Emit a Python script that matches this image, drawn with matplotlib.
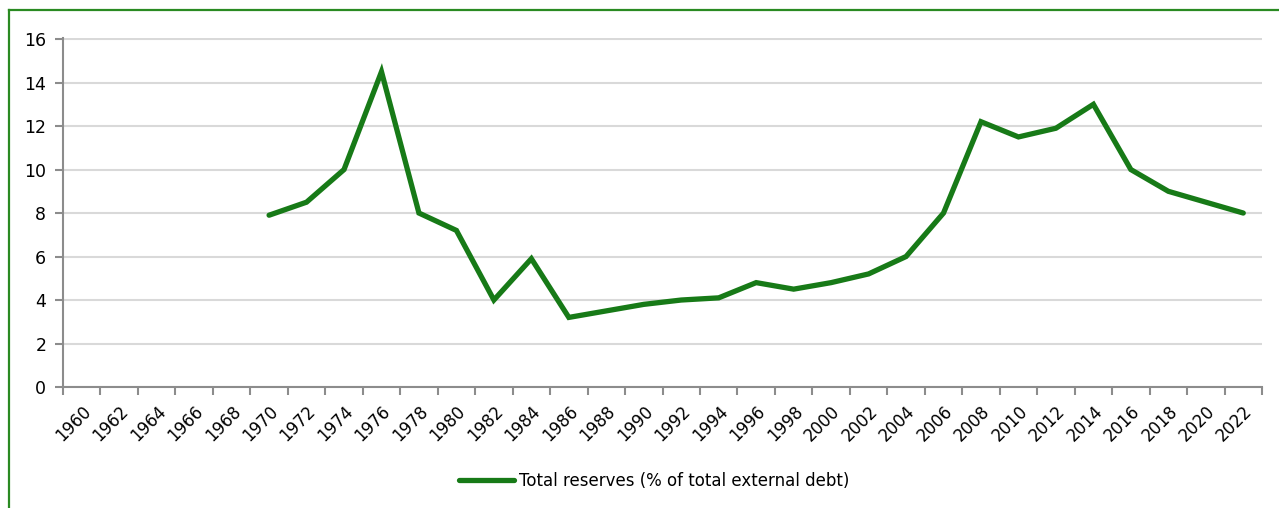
import numpy as np
import matplotlib
matplotlib.use("Agg")
import matplotlib.pyplot as plt
from matplotlib.lines import Line2D

# ---------------------------------------------------------------------------
# Data
# ---------------------------------------------------------------------------

years = [str(y) for y in range(1960, 2023, 2)]
reserves_pct = [
    np.nan, np.nan, np.nan, np.nan, np.nan,      # 1960-1968: no data
    7.9, 8.5, 10.0, 14.5, 8.0, 7.2, 4.0, 5.9,    # 1970-1984
    3.2, 3.5, 3.8, 4.0, 4.1, 4.8, 4.5, 4.8,      # 1986-2000
    5.2, 6.0, 8.0, 12.2, 11.5, 11.9, 13.0,       # 2002-2014
    10.0, 9.0, 8.5, 8.0,                         # 2016-2022
]
series_label = "Total reserves (% of total external debt)"

LINE_GREEN = "#177a17"
BORDER_GREEN = "#2a8a22"
GRID_GREY = "#d9d9d9"
AXIS_GREY = "#8c8c8c"

plt.rcParams["font.family"] = ["DejaVu Sans"]

fig = plt.figure(figsize=(12.79, 5.08), dpi=100)
ax = fig.add_axes([63 / 1279, 1 - 387 / 508, (1262 - 63) / 1279, (387 - 38) / 508])

x = np.arange(len(years))
ax.plot(x, reserves_pct, color=LINE_GREEN, lw=3.8,
        solid_capstyle="round", solid_joinstyle="miter", zorder=3)

ax.set_xlim(-0.5, len(years) - 0.5)
ax.set_ylim(0, 16.05)
ax.set_yticks(np.arange(0, 17, 2))
ax.grid(axis="y", color=GRID_GREY, lw=1.5)
ax.set_axisbelow(True)

# category labels centred, tick marks on the boundaries
ax.set_xticks(x)
ax.set_xticklabels(years, rotation=45, ha="right", va="top",
                   rotation_mode="anchor", fontsize=12)
ax.tick_params(axis="x", which="major", length=0, pad=11)
ax.set_xticks(np.arange(-0.5, len(years)), minor=True)
ax.tick_params(axis="x", which="minor", length=6, width=1.5, color=AXIS_GREY)
ax.tick_params(axis="y", length=6, width=1.5, color=AXIS_GREY,
               labelsize=12.5, pad=6)

for side in ["top", "right"]:
    ax.spines[side].set_visible(False)
for side in ["left", "bottom"]:
    ax.spines[side].set_color(AXIS_GREY)
    ax.spines[side].set_linewidth(1.5)

handle = Line2D([0], [0], color=LINE_GREEN, lw=3.8, solid_capstyle="round")
fig.legend([handle], [series_label], loc="center",
           bbox_to_anchor=(654 / 1279, 1 - 481 / 508), frameon=False,
           fontsize=12, handlelength=3.3, handletextpad=0.3)

# green frame (top and left edges visible in the crop)
fig.add_artist(Line2D([9 / 1279, 1.0], [1 - 10 / 508] * 2,
                      transform=fig.transFigure, color=BORDER_GREEN, lw=1.6))
fig.add_artist(Line2D([9 / 1279] * 2, [0.0, 1 - 10 / 508],
                      transform=fig.transFigure, color=BORDER_GREEN, lw=1.6))

fig.savefig("out.png", dpi=100)
